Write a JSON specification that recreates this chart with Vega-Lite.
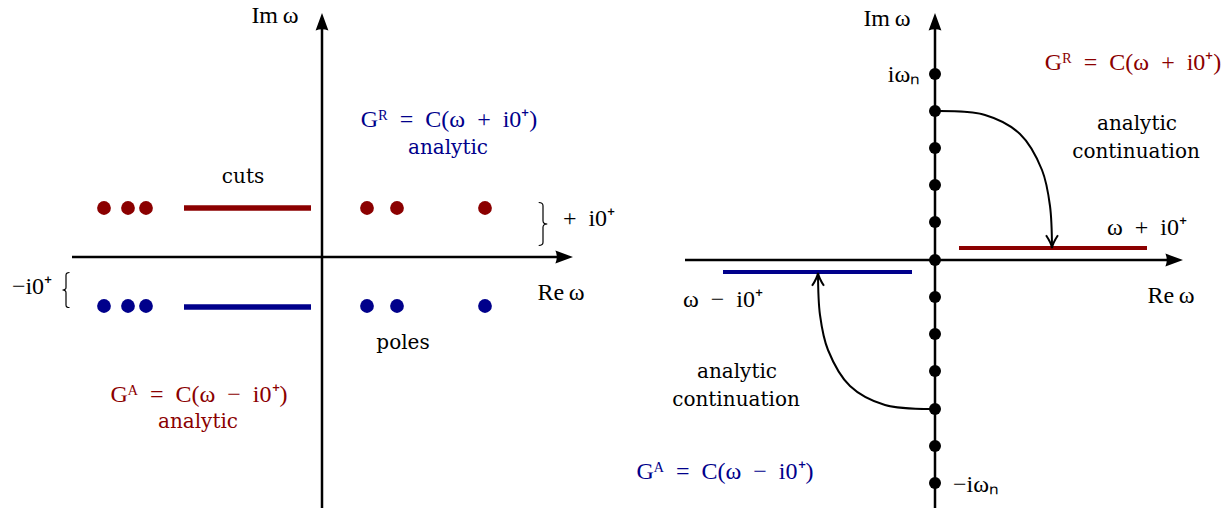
{
  "$schema": "https://vega.github.io/schema/vega-lite/v6.json",
  "width": 1232,
  "height": 512,
  "autosize": {"type": "fit", "contains": "padding"},
  "padding": 0,
  "background": "white",
  "config": {"view": {"stroke": null}},
  "datasets": {
    "axes": [
      {"x": 322, "y": 508, "x2": 322, "y2": 26},
      {"x": 72, "y": 257, "x2": 562, "y2": 257},
      {"x": 935, "y": 508, "x2": 935, "y2": 26},
      {"x": 685, "y": 260, "x2": 1172, "y2": 260}
    ],
    "heads": [
      {"x": 322, "y": 13, "dir": "up"},
      {"x": 573, "y": 257, "dir": "right"},
      {"x": 935, "y": 13, "dir": "up"},
      {"x": 1183, "y": 260, "dir": "right"}
    ],
    "cutsL": [
      {"x": 184, "x2": 311, "y": 208, "c": "R"},
      {"x": 184, "x2": 311, "y": 307, "c": "A"}
    ],
    "cutsR": [
      {"x": 959, "x2": 1147, "y": 248, "c": "R"},
      {"x": 723, "x2": 912, "y": 272, "c": "A"}
    ],
    "polesL": [
      {"x": 104, "y": 208, "c": "R"}, {"x": 128, "y": 208, "c": "R"}, {"x": 146, "y": 208, "c": "R"},
      {"x": 367, "y": 208, "c": "R"}, {"x": 397, "y": 208, "c": "R"}, {"x": 485, "y": 208, "c": "R"},
      {"x": 104, "y": 306, "c": "A"}, {"x": 128, "y": 306, "c": "A"}, {"x": 146, "y": 306, "c": "A"},
      {"x": 367, "y": 306, "c": "A"}, {"x": 397, "y": 306, "c": "A"}, {"x": 485, "y": 306, "c": "A"}
    ],
    "polesR": [
      {"x": 935, "y": 74}, {"x": 935, "y": 111}, {"x": 935, "y": 148}, {"x": 935, "y": 185},
      {"x": 935, "y": 222}, {"x": 935, "y": 260}, {"x": 935, "y": 297}, {"x": 935, "y": 334},
      {"x": 935, "y": 371}, {"x": 935, "y": 409}, {"x": 935, "y": 446}, {"x": 935, "y": 483}
    ],
    "curves": [
      {"id": 1, "o": 1, "x": 935, "y": 111},
      {"id": 1, "o": 2, "x": 985, "y": 115},
      {"id": 1, "o": 3, "x": 1020, "y": 134},
      {"id": 1, "o": 4, "x": 1042, "y": 170},
      {"id": 1, "o": 5, "x": 1050, "y": 206},
      {"id": 1, "o": 6, "x": 1052, "y": 248},
      {"id": 2, "o": 1, "x": 935, "y": 409},
      {"id": 2, "o": 2, "x": 885, "y": 405},
      {"id": 2, "o": 3, "x": 850, "y": 386},
      {"id": 2, "o": 4, "x": 828, "y": 350},
      {"id": 2, "o": 5, "x": 820, "y": 315},
      {"id": 2, "o": 6, "x": 818, "y": 273}
    ],
    "tips": [
      {"x": 1052, "y": 248, "dir": "tdown"},
      {"x": 818, "y": 273, "dir": "tup"}
    ],
    "braces": [
      {"x": 543, "y": 224, "dir": "rb", "s": "big"},
      {"x": 66, "y": 290, "dir": "lb", "s": "small"}
    ],
    "math": [
      {"x": 275, "y": 16, "t": "Im\u2009\u03c9", "c": "K"},
      {"x": 561, "y": 293, "t": "Re\u2009\u03c9", "c": "K"},
      {"x": 589, "y": 219, "t": "+\u2002i0\u207a", "c": "K"},
      {"x": 32, "y": 287, "t": "\u2212i0\u207a", "c": "K"},
      {"x": 449, "y": 120, "t": "G\u1d3f\u2002=\u2002C(\u03c9\u2002+\u2002i0\u207a)", "c": "A"},
      {"x": 199, "y": 395, "t": "G\u1d2c\u2002=\u2002C(\u03c9\u2002\u2212\u2002i0\u207a)", "c": "R"},
      {"x": 887, "y": 19, "t": "Im\u2009\u03c9", "c": "K"},
      {"x": 904, "y": 75, "t": "i\u03c9\u2099", "c": "K"},
      {"x": 976, "y": 485, "t": "\u2212i\u03c9\u2099", "c": "K"},
      {"x": 1133, "y": 63, "t": "G\u1d3f\u2002=\u2002C(\u03c9\u2002+\u2002i0\u207a)", "c": "R"},
      {"x": 1147, "y": 228, "t": "\u03c9\u2002+\u2002i0\u207a", "c": "K"},
      {"x": 1171, "y": 296, "t": "Re\u2009\u03c9", "c": "K"},
      {"x": 723, "y": 300, "t": "\u03c9\u2002\u2212\u2002i0\u207a", "c": "K"},
      {"x": 725, "y": 472, "t": "G\u1d2c\u2002=\u2002C(\u03c9\u2002\u2212\u2002i0\u207a)", "c": "A"}
    ],
    "words": [
      {"x": 243, "y": 177, "t": "cuts", "c": "K"},
      {"x": 403, "y": 343, "t": "poles", "c": "K"},
      {"x": 448, "y": 148, "t": "analytic", "c": "A"},
      {"x": 198, "y": 422, "t": "analytic", "c": "R"},
      {"x": 1137, "y": 124, "t": "analytic", "c": "K"},
      {"x": 1136, "y": 152, "t": "continuation", "c": "K"},
      {"x": 737, "y": 372, "t": "analytic", "c": "K"},
      {"x": 736, "y": 400, "t": "continuation", "c": "K"}
    ]
  },
  "encoding": {
    "x": {"field": "x", "type": "quantitative", "scale": {"domain": [0, 1232], "nice": false, "zero": false}, "axis": null},
    "y": {"field": "y", "type": "quantitative", "scale": {"domain": [0, 512], "nice": false, "zero": false, "reverse": true}, "axis": null}
  },
  "layer": [
    {
      "data": {"name": "axes"},
      "mark": {"type": "rule", "strokeWidth": 2.5, "color": "black"},
      "encoding": {"x2": {"field": "x2"}, "y2": {"field": "y2"}}
    },
    {
      "data": {"name": "heads"},
      "mark": {"type": "point", "filled": true, "opacity": 1, "size": 256, "color": "black"},
      "encoding": {
        "shape": {"field": "dir", "type": "nominal", "legend": null,
          "scale": {"domain": ["up", "right", "tdown", "tup", "rb", "lb"], "range": ["M0,0 L-0.8,2.2 Q0,1.85 0.8,2.2 Z", "M0,0 L-2.2,-0.8 Q-1.85,0 -2.2,0.8 Z", "M-0.7,-1.5 Q-0.1,-0.6 0,0 Q0.1,-0.6 0.7,-1.5", "M-0.7,1.5 Q-0.1,0.6 0,0 Q0.1,0.6 0.7,1.5", "M-0.2,-1 Q0,-1 0,-0.85 L0,-0.15 Q0,0 0.2,0 Q0,0 0,0.15 L0,0.85 Q0,1 -0.2,1", "M0.2,-1 Q0,-1 0,-0.85 L0,-0.15 Q0,0 -0.2,0 Q0,0 0,0.15 L0,0.85 Q0,1 0.2,1"]}}
      }
    },
    {
      "data": {"name": "cutsL"},
      "mark": {"type": "rule", "strokeWidth": 5.5},
      "encoding": {
        "x2": {"field": "x2"},
        "color": {"field": "c", "type": "nominal", "legend": null, "scale": {"domain": ["R", "A", "K"], "range": ["#8b0000", "#00008b", "#000000"]}}
      }
    },
    {
      "data": {"name": "cutsR"},
      "mark": {"type": "rule", "strokeWidth": 4},
      "encoding": {
        "x2": {"field": "x2"},
        "color": {"field": "c", "type": "nominal", "legend": null, "scale": {"domain": ["R", "A", "K"], "range": ["#8b0000", "#00008b", "#000000"]}}
      }
    },
    {
      "data": {"name": "polesL"},
      "mark": {"type": "point", "shape": "circle", "filled": true, "opacity": 1, "size": 190},
      "encoding": {
        "color": {"field": "c", "type": "nominal", "legend": null, "scale": {"domain": ["R", "A", "K"], "range": ["#8b0000", "#00008b", "#000000"]}}
      }
    },
    {
      "data": {"name": "curves"},
      "mark": {"type": "line", "interpolate": "catmull-rom", "strokeWidth": 2, "color": "black"},
      "encoding": {
        "detail": {"field": "id", "type": "nominal"},
        "order": {"field": "o", "type": "quantitative"}
      }
    },
    {
      "data": {"name": "polesR"},
      "mark": {"type": "point", "shape": "circle", "filled": true, "opacity": 1, "size": 143, "color": "black"}
    },
    {
      "data": {"name": "tips"},
      "mark": {"type": "point", "filled": false, "opacity": 1, "size": 289, "color": "black", "strokeWidth": 2},
      "encoding": {
        "shape": {"field": "dir", "type": "nominal", "legend": null,
          "scale": {"domain": ["up", "right", "tdown", "tup", "rb", "lb"], "range": ["M0,0 L-0.8,2.2 Q0,1.85 0.8,2.2 Z", "M0,0 L-2.2,-0.8 Q-1.85,0 -2.2,0.8 Z", "M-0.7,-1.5 Q-0.1,-0.6 0,0 Q0.1,-0.6 0.7,-1.5", "M-0.7,1.5 Q-0.1,0.6 0,0 Q0.1,0.6 0.7,1.5", "M-0.2,-1 Q0,-1 0,-0.85 L0,-0.15 Q0,0 0.2,0 Q0,0 0,0.15 L0,0.85 Q0,1 -0.2,1", "M0.2,-1 Q0,-1 0,-0.85 L0,-0.15 Q0,0 -0.2,0 Q0,0 0,0.15 L0,0.85 Q0,1 0.2,1"]}}
      }
    },
    {
      "data": {"name": "braces"},
      "mark": {"type": "point", "filled": false, "opacity": 1, "color": "black", "strokeWidth": 1.2},
      "encoding": {
        "shape": {"field": "dir", "type": "nominal", "legend": null,
          "scale": {"domain": ["up", "right", "tdown", "tup", "rb", "lb"], "range": ["M0,0 L-0.8,2.2 Q0,1.85 0.8,2.2 Z", "M0,0 L-2.2,-0.8 Q-1.85,0 -2.2,0.8 Z", "M-0.7,-1.5 Q-0.1,-0.6 0,0 Q0.1,-0.6 0.7,-1.5", "M-0.7,1.5 Q-0.1,0.6 0,0 Q0.1,0.6 0.7,1.5", "M-0.2,-1 Q0,-1 0,-0.85 L0,-0.15 Q0,0 0.2,0 Q0,0 0,0.15 L0,0.85 Q0,1 -0.2,1", "M0.2,-1 Q0,-1 0,-0.85 L0,-0.15 Q0,0 -0.2,0 Q0,0 0,0.15 L0,0.85 Q0,1 0.2,1"]}},
        "size": {"field": "s", "type": "nominal", "legend": null, "scale": {"domain": ["big", "small"], "range": [1849, 1225]}}
      }
    },
    {
      "data": {"name": "math"},
      "mark": {"type": "text", "font": "Liberation Serif", "fontSize": 24, "align": "center", "baseline": "middle"},
      "encoding": {
        "text": {"field": "t"},
        "color": {"field": "c", "type": "nominal", "legend": null, "scale": {"domain": ["R", "A", "K"], "range": ["#8b0000", "#00008b", "#000000"]}}
      }
    },
    {
      "data": {"name": "words"},
      "mark": {"type": "text", "font": "DejaVu Serif", "fontSize": 20, "align": "center", "baseline": "middle"},
      "encoding": {
        "text": {"field": "t"},
        "color": {"field": "c", "type": "nominal", "legend": null, "scale": {"domain": ["R", "A", "K"], "range": ["#8b0000", "#00008b", "#000000"]}}
      }
    }
  ]
}
